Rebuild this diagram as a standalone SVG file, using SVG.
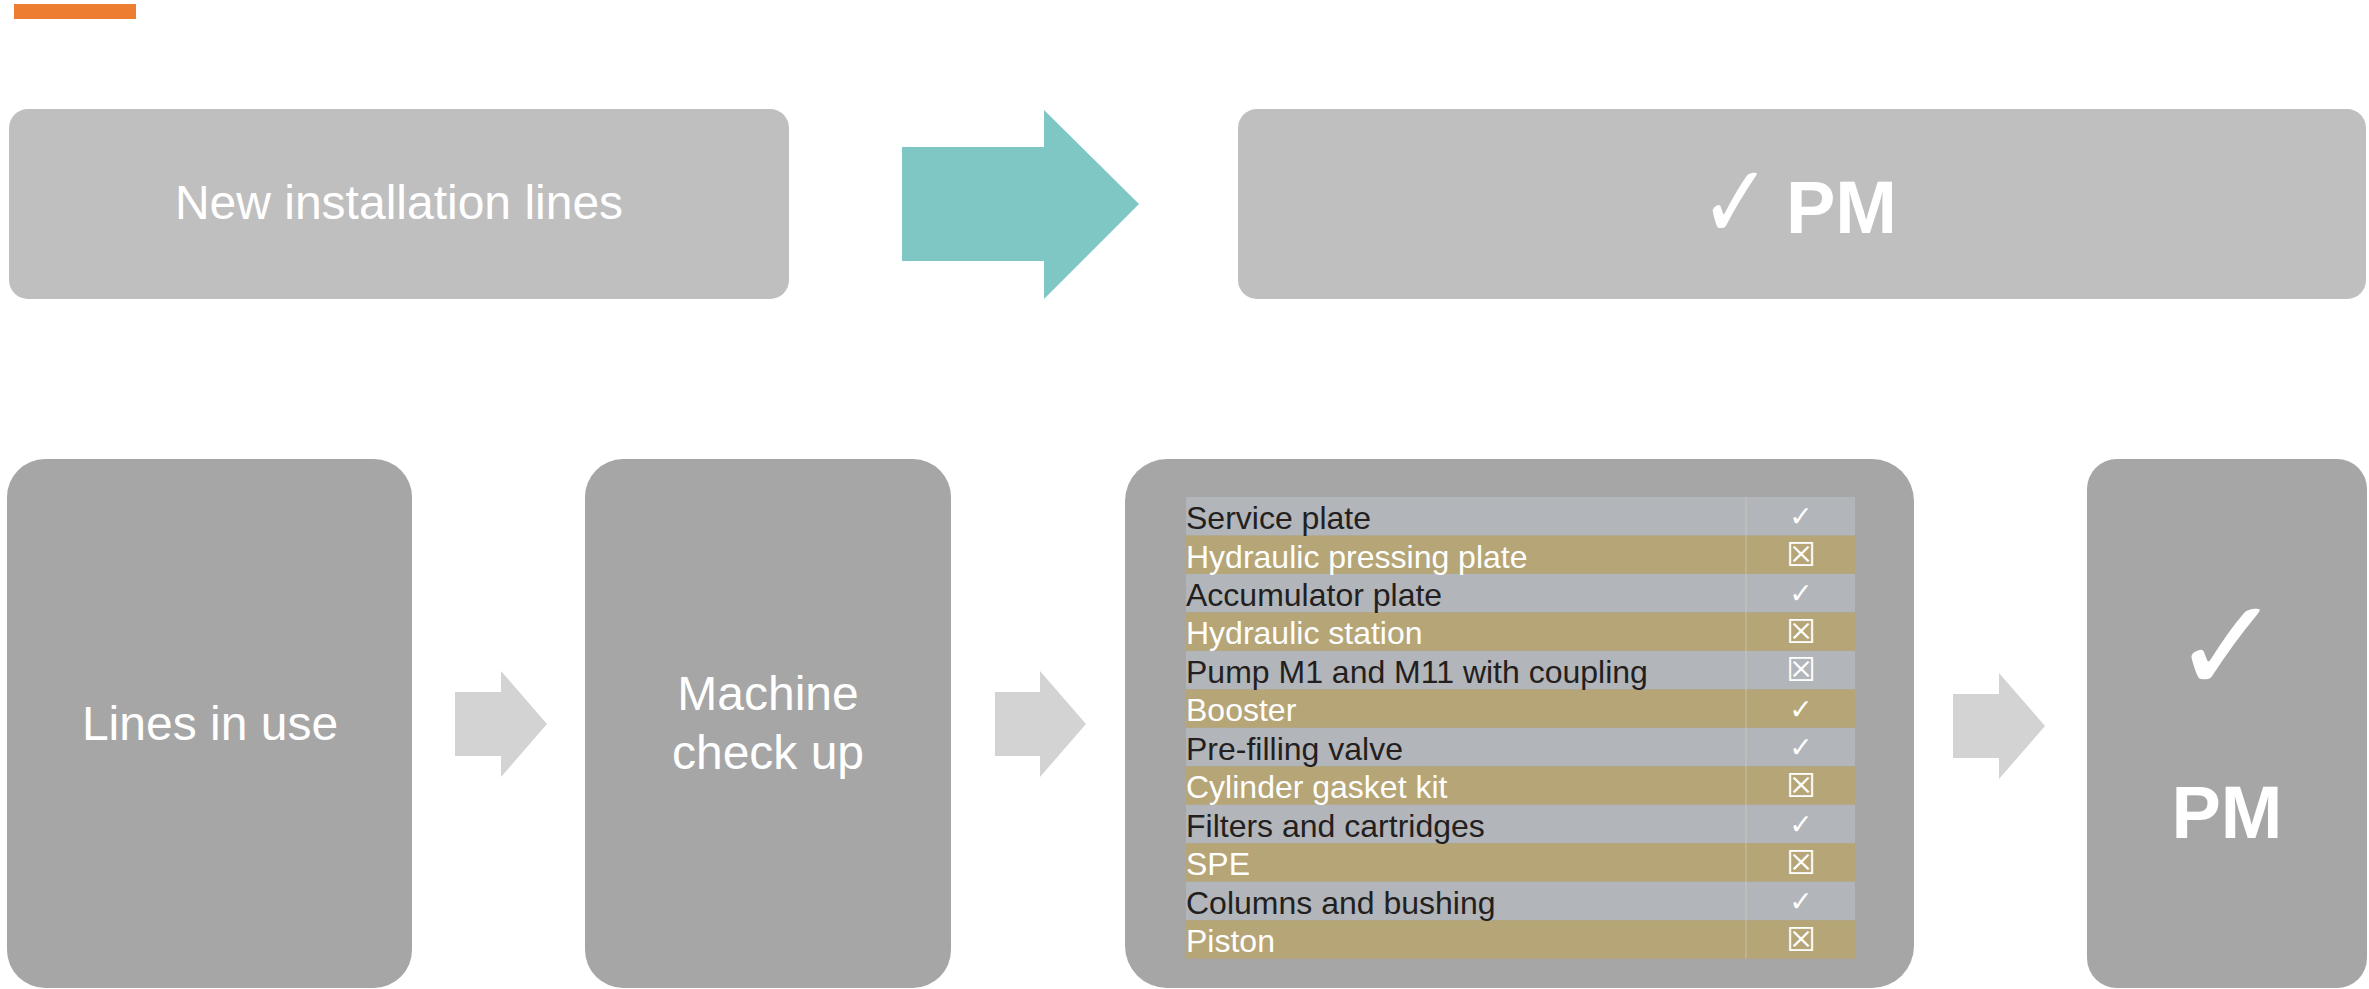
<svg xmlns="http://www.w3.org/2000/svg" width="2369" height="989" viewBox="0 0 2369 989">
<style>
.lbl{font-family:"Liberation Sans",Arial,sans-serif;font-size:48px;fill:#FFFFFF;text-anchor:middle}
.pm{font-family:"Liberation Sans",Arial,sans-serif;font-size:74px;font-weight:bold;fill:#FFFFFF}
.chk{font-family:"DejaVu Sans",sans-serif;fill:#FFFFFF}
.row{font-family:"Liberation Sans",Arial,sans-serif;font-size:32px}
.dk{fill:#231F20}
.wt{fill:#FFFFFF}
.g{fill:#B2B5BA}
.y{fill:#B6A576}
.sym{font-family:"DejaVu Sans",sans-serif;font-size:28px;fill:#FFFFFF;text-anchor:middle}
.box{font-size:33px}
.arr{fill:#D3D3D3}
</style>
<rect x="0" y="0" width="2369" height="989" fill="#FFFFFF"/>
<rect id="accent" x="14" y="4" width="122" height="15" fill="#ED7D31"/>

<g id="connectors">
  <polygon id="arrow-top" points="902,147 1044,147 1044,110 1139,204 1044,299 1044,261 902,261" fill="#7FC7C5"/>
  <polygon id="arrow-1" class="arr" points="455,692 501,692 501,671 547,724 501,777 501,756 455,756"/>
  <polygon id="arrow-2" class="arr" points="995,692 1040,692 1040,671 1086,724 1040,777 1040,756 995,756"/>
  <polygon id="arrow-3" class="arr" points="1953,694 1999,694 1999,673 2045,726 1999,779 1999,758 1953,758"/>
</g>

<g id="node-new-installation">
  <rect x="9" y="109" width="780" height="190" rx="19" ry="19" fill="#BFBFBF"/>
  <text class="lbl" x="399" y="219" font-size="49">New installation lines</text>
</g>

<g id="node-pm-top">
  <rect x="1238" y="109" width="1128" height="190" rx="19" ry="19" fill="#BFBFBF"/>
  <text class="chk" transform="translate(1700,238) scale(1.15,1.4)" x="0" y="0" font-size="74">✓</text>
  <text class="pm" x="1786" y="233">PM</text>
</g>

<g id="node-lines-in-use">
  <rect x="7" y="459" width="405" height="529" rx="38" ry="38" fill="#A6A6A6"/>
  <text class="lbl" x="210" y="740">Lines in use</text>
</g>

<g id="node-machine-check">
  <rect x="585" y="459" width="366" height="529" rx="38" ry="38" fill="#A6A6A6"/>
  <text class="lbl" x="768" y="710">Machine</text>
  <text class="lbl" x="768" y="769">check up</text>
</g>

<g id="node-checklist">
  <rect x="1125" y="459" width="789" height="529" rx="42" ry="42" fill="#A6A6A6"/>
  <rect class="g" x="1186" y="497.0" width="669" height="38.5"/>
  <rect class="y" x="1186" y="535.5" width="669" height="38.5"/>
  <rect class="g" x="1186" y="573.9" width="669" height="38.5"/>
  <rect class="y" x="1186" y="612.4" width="669" height="38.5"/>
  <rect class="g" x="1186" y="650.9" width="669" height="38.5"/>
  <rect class="y" x="1186" y="689.4" width="669" height="38.5"/>
  <rect class="g" x="1186" y="727.8" width="669" height="38.5"/>
  <rect class="y" x="1186" y="766.3" width="669" height="38.5"/>
  <rect class="g" x="1186" y="804.8" width="669" height="38.5"/>
  <rect class="y" x="1186" y="843.2" width="669" height="38.5"/>
  <rect class="g" x="1186" y="881.7" width="669" height="38.5"/>
  <rect class="y" x="1186" y="920.2" width="669" height="38.4"/>
  <line x1="1746" y1="497" x2="1746" y2="958.6" stroke="#D8D2C0" stroke-width="1" opacity="0.6"/>
  <text class="row dk" x="1186" y="529.0">Service plate</text>
  <text class="row wt" x="1186" y="567.5">Hydraulic pressing plate</text>
  <text class="row dk" x="1186" y="605.9">Accumulator plate</text>
  <text class="row wt" x="1186" y="644.4">Hydraulic station</text>
  <text class="row dk" x="1186" y="682.9">Pump M1 and M11 with coupling</text>
  <text class="row wt" x="1186" y="721.4">Booster</text>
  <text class="row dk" x="1186" y="759.8">Pre-filling valve</text>
  <text class="row wt" x="1186" y="798.3">Cylinder gasket kit</text>
  <text class="row dk" x="1186" y="836.8">Filters and cartridges</text>
  <text class="row wt" x="1186" y="875.2">SPE</text>
  <text class="row dk" x="1186" y="913.7">Columns and bushing</text>
  <text class="row wt" x="1186" y="952.2">Piston</text>
  <text class="sym" x="1801" y="526">✓</text>
  <text class="sym box" x="1801" y="566">☒</text>
  <text class="sym" x="1801" y="603">✓</text>
  <text class="sym box" x="1801" y="643">☒</text>
  <text class="sym box" x="1801" y="681">☒</text>
  <text class="sym" x="1801" y="719">✓</text>
  <text class="sym" x="1801" y="757">✓</text>
  <text class="sym box" x="1801" y="797">☒</text>
  <text class="sym" x="1801" y="834">✓</text>
  <text class="sym box" x="1801" y="874">☒</text>
  <text class="sym" x="1801" y="911">✓</text>
  <text class="sym box" x="1801" y="951">☒</text>
</g>

<g id="node-pm-final">
  <rect x="2087" y="459" width="280" height="529" rx="30" ry="30" fill="#A6A6A6"/>
  <text class="chk" x="2227" y="692" font-size="132" font-weight="bold" text-anchor="middle">✓</text>
  <text class="pm" x="2227" y="838" text-anchor="middle">PM</text>
</g>
</svg>
